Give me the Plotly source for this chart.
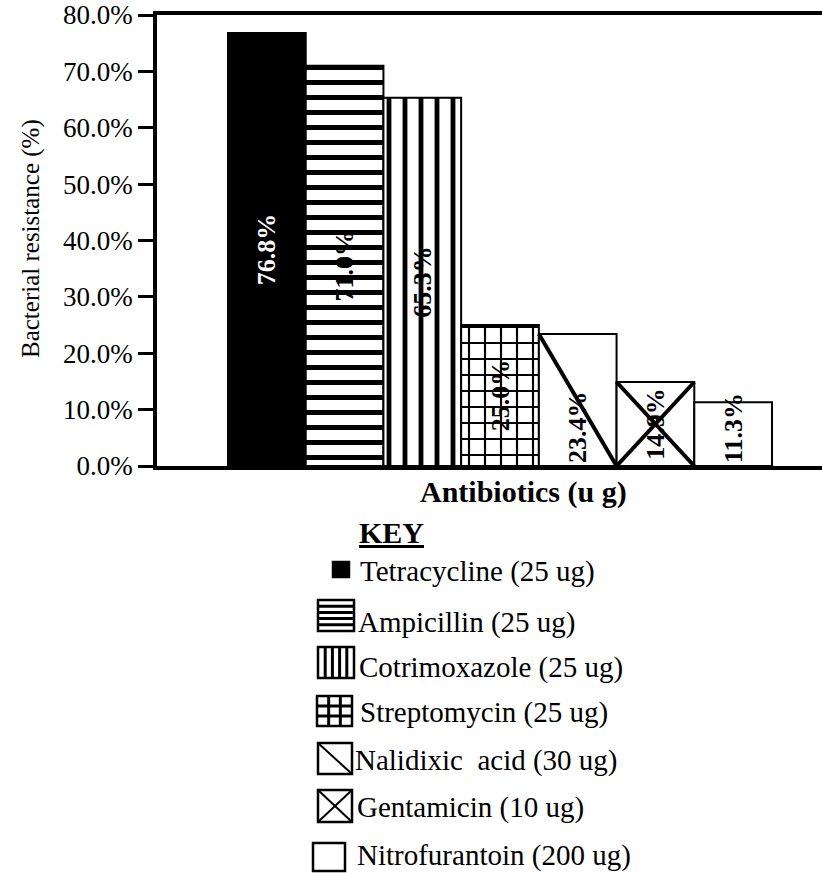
import plotly.graph_objects as go

# ---------------- data ----------------
antibiotics = ["Tetracycline (25 ug)", "Ampicillin (25 ug)", "Cotrimoxazole (25 ug)",
               "Streptomycin (25 ug)", "Nalidixic  acid (30 ug)", "Gentamicin (10 ug)",
               "Nitrofurantoin (200 ug)"]
resistance = [76.8, 71.0, 65.3, 25.0, 23.4, 14.9, 11.3]
bar_labels = ["76.8%", "71.0%", "65.3%", "25.0%", "23.4%", "14.9%", "11.3%"]
y_ticks = [0, 10, 20, 30, 40, 50, 60, 70, 80]
y_tick_labels = ["0.0%", "10.0%", "20.0%", "30.0%", "40.0%", "50.0%", "60.0%", "70.0%", "80.0%"]

# ---------------- layout helpers ----------------
W, H = 822, 873
FONT = "Liberation Serif"


def px(x):
    return x / W


def py(y):
    return 1 - y / H


# style per bar (fill, pattern, label colour, label anchor, overlay line kind)
styles = [
    dict(color="black", shape="", size=10, sol=0.3, tcol="white", anchor="middle", diag=None),
    dict(color="white", shape="-", size=15, sol=0.33, tcol="black", anchor="middle", diag=None),
    dict(color="white", shape="|", size=16, sol=0.3, tcol="black", anchor="middle", diag=None),
    dict(color="white", shape="+", size=16, sol=0.25, tcol="black", anchor="middle", diag=None),
    dict(color="white", shape="", size=10, sol=0.3, tcol="black", anchor="start", diag="back"),
    dict(color="white", shape="", size=10, sol=0.3, tcol="black", anchor="middle", diag="cross"),
    dict(color="white", shape="", size=10, sol=0.3, tcol="black", anchor="start", diag=None),
]

fig = go.Figure()
xs = list(range(len(antibiotics)))

for i, (name, v, lab) in enumerate(zip(antibiotics, resistance, bar_labels)):
    s = styles[i]
    marker = dict(color=s["color"], line=dict(color="black", width=2))
    if s["shape"]:
        marker["pattern"] = dict(shape=s["shape"], size=s["size"], solidity=s["sol"],
                                 fgcolor="black", bgcolor="white", fillmode="replace")
    fig.add_trace(go.Bar(
        x=[xs[i]], y=[v], width=1, name=name, marker=marker,
        text=["<b>" + lab + "</b>"], textposition="inside", textangle=-90,
        insidetextanchor=s["anchor"], constraintext="none",
        textfont=dict(family=FONT, size=26, color=s["tcol"]),
        hoverinfo="name+y", cliponaxis=False,
    ))
    if s["diag"] == "back":
        fig.add_trace(go.Scatter(x=[xs[i] - 0.5, xs[i] + 0.5], y=[v, 0], mode="lines",
                                 line=dict(color="black", width=4), hoverinfo="skip"))
    elif s["diag"] == "cross":
        fig.add_trace(go.Scatter(x=[xs[i] - 0.5, xs[i] + 0.5, None, xs[i] - 0.5, xs[i] + 0.5],
                                 y=[v, 0, None, 0, v], mode="lines",
                                 line=dict(color="black", width=4), hoverinfo="skip"))

# x range so that bars span 228..772 px inside a 157..822 px plot
unit = (772 - 228) / len(antibiotics)
x0 = -0.5 - (228 - 157) / unit
x1 = x0 + (822 - 157) / unit

fig.update_layout(
    template="none",
    width=W, height=H,
    margin=dict(l=0, r=0, t=0, b=0, pad=0, autoexpand=False),
    paper_bgcolor="white", plot_bgcolor="white",
    showlegend=False, barmode="overlay",
    font=dict(family=FONT, color="black"),
    xaxis=dict(domain=[px(157), 1], range=[x0, x1], showline=True, linecolor="black",
               linewidth=3.5, mirror=True, showticklabels=False, ticks="",
               showgrid=False, zeroline=False, fixedrange=True, automargin=False),
    yaxis=dict(domain=[py(466), py(15)], range=[0, 80], showline=True, linecolor="black",
               linewidth=3.5, ticks="outside", ticklen=15, tickwidth=3, tickcolor="black",
               tickvals=y_ticks, ticktext=y_tick_labels,
               tickfont=dict(family=FONT, size=27, color="black"),
               showgrid=False, zeroline=False, fixedrange=True, automargin=False),
)

ann = []
ann.append(dict(text="Bacterial resistance (%)", x=px(31), y=py(239), xref="paper", yref="paper",
                textangle=-90, showarrow=False, xanchor="center", yanchor="middle",
                font=dict(family=FONT, size=25, color="black")))
ann.append(dict(text="<b>Antibiotics (u g)</b>", x=px(523), y=py(492), xref="paper", yref="paper",
                showarrow=False, xanchor="center", yanchor="middle",
                font=dict(family=FONT, size=30, color="black")))
ann.append(dict(text="<b><u>KEY</u></b>", x=px(357), y=py(532), xref="paper", yref="paper",
                showarrow=False, xanchor="left", yanchor="middle",
                font=dict(family=FONT, size=30, color="black")))

# ---------------- manual key ----------------
icon_boxes = [(333, 562, 349, 577), (318, 600, 354, 631), (318, 647, 354, 678),
              (317, 696, 352, 726), (318, 743, 352, 774), (318, 790, 352, 822),
              (313, 843, 345, 871)]
text_x = [358, 356, 357, 358, 353, 355, 355]
text_y = [571, 622, 667, 712, 760, 807, 855]
icon_kinds = ["solid", "h", "v", "grid", "back", "cross", "empty"]

shapes = []


def line(xa, ya, xb, yb, w=2.5):
    shapes.append(dict(type="line", xref="paper", yref="paper",
                       x0=px(xa), y0=py(ya), x1=px(xb), y1=py(yb),
                       line=dict(color="black", width=w)))


for (l, t, r, b), kind in zip(icon_boxes, icon_kinds):
    shapes.append(dict(type="rect", xref="paper", yref="paper",
                       x0=px(l), y0=py(b), x1=px(r), y1=py(t),
                       line=dict(color="black", width=2.5),
                       fillcolor="black" if kind == "solid" else "white"))
    if kind == "h":
        for k in range(1, 5):
            yy = t + (b - t) * k / 5
            line(l, yy, r, yy, 3)
    elif kind == "v":
        for k in range(1, 5):
            xx = l + (r - l) * k / 5
            line(xx, t, xx, b, 3)
    elif kind == "grid":
        for k in range(1, 3):
            xx = l + (r - l) * k / 3
            yy = t + (b - t) * k / 3
            line(xx, t, xx, b, 3)
            line(l, yy, r, yy, 3)
    elif kind == "back":
        line(l, t, r, b, 2)
    elif kind == "cross":
        line(l, t, r, b, 2)
        line(l, b, r, t, 2)

for name, tx, ty in zip(antibiotics, text_x, text_y):
    ann.append(dict(text=name.replace("  ", " \u00a0"), x=px(tx), y=py(ty),
                    xref="paper", yref="paper", showarrow=False,
                    xanchor="left", yanchor="middle",
                    font=dict(family=FONT, size=29, color="black")))

fig.update_layout(annotations=ann, shapes=shapes)

fig.write_html(
    "out.html",
    config={"displayModeBar": False},
    post_script="document.body.style.margin='0';document.body.style.padding='0';"
                "document.documentElement.style.overflow='hidden';",
)
